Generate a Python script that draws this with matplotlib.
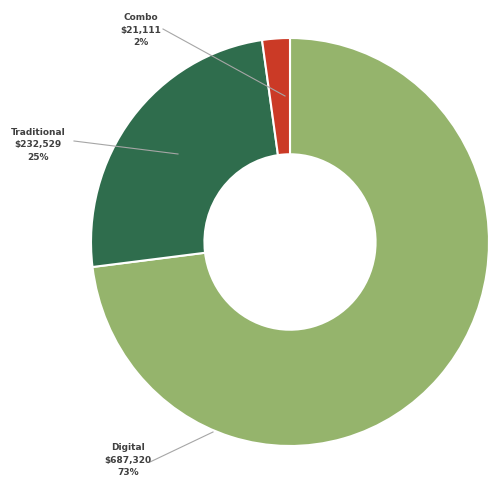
import matplotlib.pyplot as plt

# sales by channel
channels = ['Digital', 'Traditional', 'Combo']
sales = [687320, 232529, 21111]
shares = ['73%', '25%', '2%']
colors = ['#95B46C', '#2F6D4D', '#CB3A26']

fig = plt.figure(figsize=(4.93, 4.87), dpi=100)
W, H = 493, 487
cx, cy, rx, ry = 290, 242, 199, 204
ax = fig.add_axes([(cx - rx) / W, (H - cy - ry) / H, 2 * rx / W, 2 * ry / H])

ax.pie(sales, colors=colors, startangle=90, counterclock=False,
       wedgeprops=dict(width=0.57, edgecolor='white', linewidth=1.5))
ax.set_aspect('auto')
ax.set_xlim(-1, 1)
ax.set_ylim(-1, 1)
ax.axis('off')


def px(x, y):
    return ((x - cx) / rx, (cy - y) / ry)


# label position, leader end (inside slice), leader start
labels = [
    ((128, 460), (213, 432), (150, 462)),
    ((38, 145), (178, 154), (74, 141)),
    ((141, 30), (285, 96), (163, 29)),
]
for name, val, pct, (lp, tip, start) in zip(channels, sales, shares, labels):
    ax.text(*px(*lp), f'{name}\n${val:,}\n{pct}', ha='center', va='center',
            fontsize=6.5, fontweight='bold', color='#404040', linespacing=1.5)
    ax.plot(*zip(px(*start), px(*tip)), color='#A6A6A6', lw=0.8, clip_on=False)

fig.savefig('out.png', dpi=100)
